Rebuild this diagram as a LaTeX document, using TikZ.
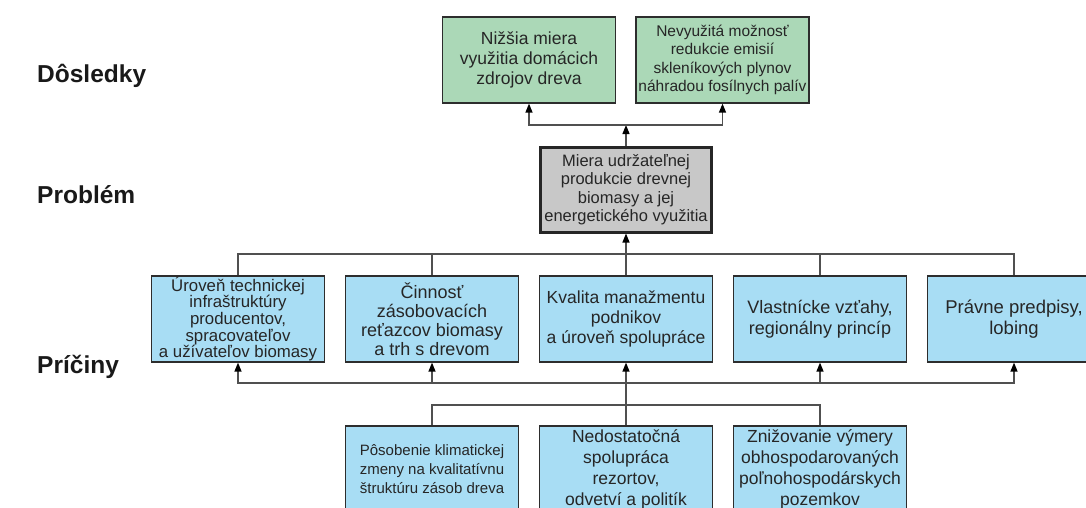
\documentclass[tikz,border=0pt]{standalone}
\usepackage{fontspec}
\setmainfont{Liberation Sans}
\usetikzlibrary{arrows.meta}
\definecolor{effectfill}{RGB}{171,216,183}
\definecolor{causefill}{RGB}{168,221,244}
\definecolor{corefill}{RGB}{200,200,200}
\definecolor{wire}{RGB}{80,80,80}
\definecolor{rim}{RGB}{45,45,45}
\newcommand{\fs}[2]{\fontsize{#1}{#2}\selectfont}
\tikzset{
  box/.style={draw=rim, line width=1.2pt, rectangle, inner sep=0pt,
    minimum width=173pt, minimum height=86pt, align=center, text=black!85},
  effectbox/.style={box, fill=effectfill},
  causebox/.style={box, fill=causefill},
  corebox/.style={box, fill=corefill, line width=3pt, draw=black!85,
    minimum width=171pt, minimum height=85pt},
  wireline/.style={draw=wire, line width=1.3pt},
  wirearrow/.style={wireline, -{Triangle[length=9pt,width=7pt,fill=black,color=black]}},
  levellabel/.style={anchor=base west, inner sep=0pt, font=\bfseries\fs{24.5}{27}, text=black!90}
}
\begin{document}
\begin{tikzpicture}[x=1pt,y=-1pt]
\useasboundingbox (0,0) rectangle (1086,508);
\fill[white] (0,0) rectangle (1086,508);
\clip (0,0) rectangle (1086,508);

% level labels
\node[levellabel] (lblE) at (37,83) {Dôsledky};
\node[levellabel] (lblP) at (37,203) {Problém};
\node[levellabel] (lblC) at (37,373) {Príčiny};

% consequences
\node[effectbox, font=\fs{17.5}{20}] (g1) at (529,60) {Nižšia miera\\využitia domácich\\zdrojov dreva};
\node[effectbox, font=\fs{15.5}{18.3}] (g2) at (722.5,60) {Nevyužitá možnosť\\redukcie emisií\\skleníkových plynov\\náhradou fosílnych palív};

% core problem
\node[corebox, font=\fs{16.5}{18.5}] (p) at (626,189.5) {Miera udržateľnej\\produkcie drevnej\\biomasy a jej\\energetického využitia};

% direct causes
\node[causebox, font=\fs{16.8}{16.6}] (c1) at (238,319) {Úroveň technickej\\infraštruktúry\\producentov,\\spracovateľov\\a užívateľov biomasy};
\node[causebox, font=\fs{18}{19}] (c2) at (432,319) {Činnosť\\zásobovacích\\reťazcov biomasy\\a trh s drevom};
\node[causebox, font=\fs{17.5}{20}] (c3) at (626,319) {Kvalita manažmentu\\podnikov\\a úroveň spolupráce};
\node[causebox, font=\fs{18}{20.5}] (c4) at (820,319) {Vlastnícke vzťahy,\\regionálny princíp};
\node[causebox, font=\fs{18.5}{21}] (c5) at (1014,319) {Právne predpisy,\\lobing};

% underlying causes
\node[causebox, font=\fs{15}{19}] (u1) at (432,469) {Pôsobenie klimatickej\\zmeny na kvalitatívnu\\štruktúru zásob dreva};
\node[causebox, font=\fs{17.5}{21}] (u2) at (626,469) {Nedostatočná\\spolupráca\\rezortov,\\odvetví a politík};
\node[causebox, font=\fs{17.5}{21}] (u3) at (820,469) {Znižovanie výmery\\obhospodarovaných\\poľnohospodárskych\\pozemkov};

% junction points
\coordinate (jtop) at (626,125);
\coordinate (jmid) at (626,254);
\coordinate (jlow) at (626,383);
\coordinate (jbot) at (626,405);

% problem -> consequences
\draw[wirearrow] (p.north) -- (jtop);
\draw[wirearrow] (jtop) -| (g1.south);
\draw[wirearrow] (jtop) -| (g2.south);

% direct causes -> problem
\draw[wirearrow] (c3.north) -- (p.south);
\foreach \n in {c1,c2,c4,c5} \draw[wireline] (jmid) -| (\n.north);

% underlying causes -> direct causes
\foreach \n in {c1,c2,c3,c4,c5} \draw[wirearrow] (jlow) -| (\n.south);
\draw[wireline] (u2.north) -- (jlow);
\draw[wireline] (jbot) -| (u1.north);
\draw[wireline] (jbot) -| (u3.north);
\end{tikzpicture}
\end{document}
